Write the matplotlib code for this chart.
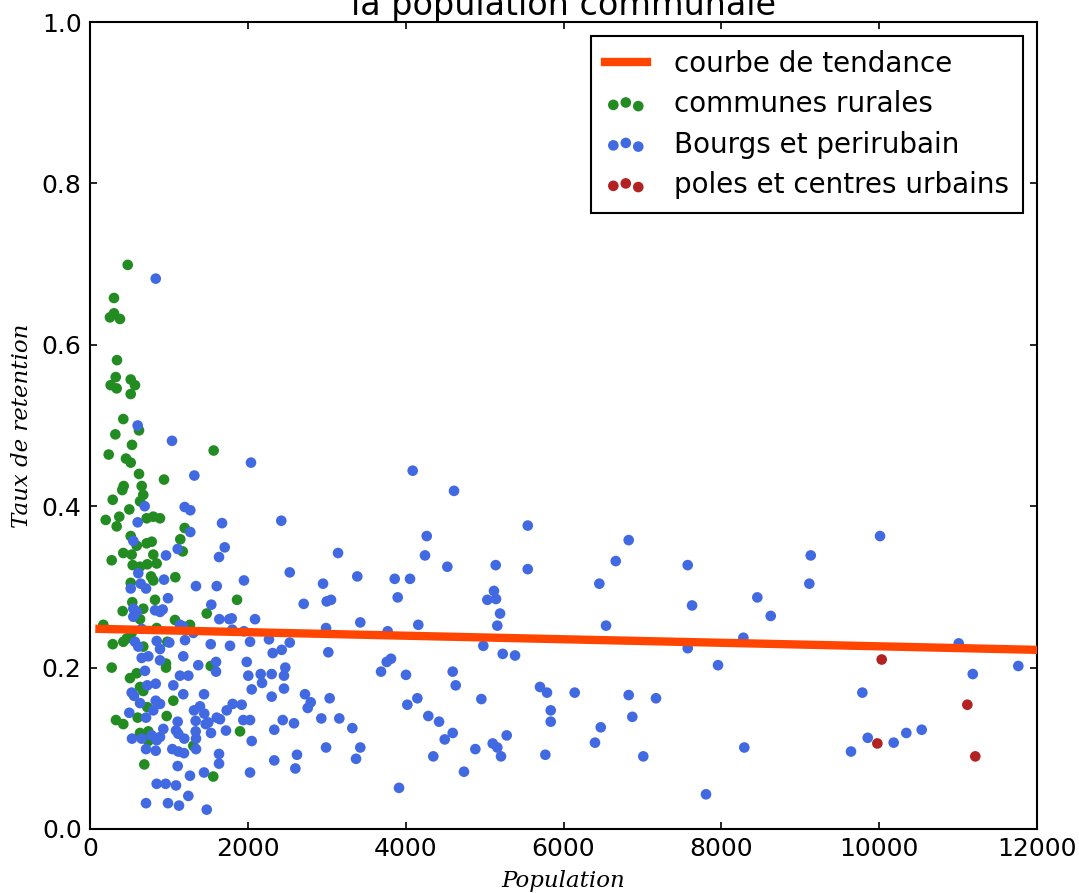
import numpy as np
import matplotlib
matplotlib.use("Agg")
import matplotlib.pyplot as plt

# communes rurales
rurales_pop = [478, 304, 253, 304, 380, 342, 326, 262, 338, 516, 570, 516, 422,
               621, 321, 532, 1567, 237, 456, 516, 621, 938, 655, 427, 409, 675,
               288, 634, 498, 371, 199, 718, 802, 887, 338, 1200, 516, 1144, 592,
               718, 782, 1175, 275, 422, 528, 802, 845, 541, 634, 726, 773, 802,
               1081, 516, 824, 536, 1863, 414, 634, 675, 1479, 1077, 169, 1267,
               845, 465, 422, 288, 528, 675, 980, 963, 963, 1530, 275, 507, 592,
               634, 675, 1056, 726, 329, 422, 604, 972, 1901, 634, 739, 739, 1309,
               688, 1562]
rurales_taux = [0.699, 0.658, 0.634, 0.639, 0.632, 0.581, 0.560, 0.550, 0.546, 0.557,
                0.550, 0.539, 0.508, 0.494, 0.489, 0.476, 0.469, 0.464, 0.459, 0.454,
                0.440, 0.433, 0.425, 0.425, 0.420, 0.414, 0.408, 0.406, 0.396, 0.387,
                0.383, 0.385, 0.387, 0.385, 0.375, 0.373, 0.363, 0.359, 0.351, 0.354,
                0.356, 0.344, 0.333, 0.342, 0.340, 0.340, 0.329, 0.327, 0.325, 0.328,
                0.313, 0.308, 0.312, 0.305, 0.284, 0.281, 0.284, 0.270, 0.260, 0.273,
                0.267, 0.259, 0.253, 0.253, 0.249, 0.236, 0.232, 0.229, 0.243, 0.226,
                0.232, 0.205, 0.200, 0.202, 0.200, 0.187, 0.193, 0.176, 0.171, 0.159,
                0.151, 0.135, 0.130, 0.138, 0.140, 0.121, 0.119, 0.121, 0.109, 0.103,
                0.080, 0.065]

# bourgs et periurbain
bourgs_pop = [833, 604, 1039, 2040, 1322, 693, 1200, 1271, 604, 1673, 1271, 549, 1111,
              1707, 963, 1635, 612, 938, 516, 642, 710, 1343, 1606, 1951, 988, 1537,
              549, 592, 549, 824, 887, 921, 1639, 1765, 1796, 1140, 1182, 655, 1951,
              1803, 570, 612, 845, 887, 1005, 1204, 1309, 1530, 1774, 655, 739, 887,
              1182, 1372, 1597, 1986, 697, 1140, 1246, 1597, 2006, 726, 833, 1056,
              528, 558, 1182, 1445, 634, 833, 887, 802, 1318, 1394, 1448, 1732, 1808,
              1922, 498, 710, 1111, 1339, 1466, 1499, 1606, 1647, 1943, 929, 1090,
              1119, 1195, 1339, 1343, 1533, 1723, 532, 655, 782, 845, 887, 710, 833,
              1343, 1043, 1119, 1191, 1635, 1635, 1111, 1267, 1445, 845, 959, 1090,
              1246, 710, 988, 1128, 1479,
              2424, 4089, 4613, 3143, 2531, 2953, 3387, 4267, 4245, 4528, 3861, 4055,
              3899, 2708, 2999, 3054, 2091, 2991, 3425, 3772, 4160, 2028, 2268, 2429,
              2531, 2315, 3020, 2163, 2302, 2475, 2458, 2180, 2049, 2458, 2302, 2724,
              2797, 2759, 3037, 3688, 3760, 3814, 4004, 4021, 4148, 4596, 4634, 2028,
              2442, 2585, 2931, 3159, 3324, 2335, 4287, 4423, 4596, 4495, 2049, 2991,
              3425, 3371, 2623, 2335, 2602, 4350, 4883, 4739, 3916, 2028,
              5547, 6826, 5141, 5547, 6662, 7574, 6454, 5119, 5035, 5145, 5196, 5161,
              6539, 7629, 8456, 4984, 5230, 5386, 7574, 8279, 7958, 5702, 5791, 6142,
              6826, 7172, 4959, 5838, 5838, 6872, 6472, 5280, 5103, 5161, 5208, 5770,
              6399, 7011, 8291, 7806,
              10011, 9133, 9115, 8626, 11008, 11763, 11186, 9787, 9643, 9855, 10184,
              10344, 10539]
bourgs_taux = [0.682, 0.500, 0.481, 0.454, 0.438, 0.400, 0.399, 0.395, 0.380, 0.379,
               0.368, 0.357, 0.347, 0.349, 0.339, 0.337, 0.317, 0.309, 0.298, 0.304,
               0.298, 0.301, 0.301, 0.308, 0.286, 0.278, 0.273, 0.269, 0.263, 0.271,
               0.269, 0.272, 0.260, 0.260, 0.261, 0.253, 0.251, 0.248, 0.245, 0.247,
               0.232, 0.226, 0.233, 0.223, 0.231, 0.234, 0.243, 0.229, 0.227, 0.212,
               0.214, 0.209, 0.214, 0.203, 0.207, 0.207, 0.196, 0.190, 0.190, 0.195,
               0.190, 0.178, 0.180, 0.178, 0.169, 0.165, 0.167, 0.167, 0.156, 0.159,
               0.155, 0.147, 0.147, 0.152, 0.143, 0.147, 0.155, 0.154, 0.144, 0.138,
               0.133, 0.134, 0.130, 0.132, 0.138, 0.136, 0.135, 0.124, 0.122, 0.118,
               0.112, 0.121, 0.112, 0.119, 0.122, 0.112, 0.112, 0.116, 0.110, 0.114,
               0.099, 0.097, 0.099, 0.099, 0.096, 0.094, 0.093, 0.081, 0.078, 0.066,
               0.070, 0.056, 0.056, 0.054, 0.041, 0.032, 0.032, 0.029, 0.024,
               0.382, 0.444, 0.419, 0.342, 0.318, 0.304, 0.313, 0.363, 0.339, 0.325,
               0.310, 0.310, 0.287, 0.279, 0.282, 0.284, 0.260, 0.249, 0.256, 0.245,
               0.253, 0.232, 0.235, 0.222, 0.231, 0.218, 0.219, 0.192, 0.192, 0.200,
               0.190, 0.181, 0.173, 0.174, 0.164, 0.167, 0.157, 0.150, 0.162, 0.195,
               0.207, 0.211, 0.191, 0.154, 0.162, 0.195, 0.178, 0.135, 0.135, 0.131,
               0.137, 0.137, 0.125, 0.123, 0.140, 0.133, 0.119, 0.111, 0.109, 0.101,
               0.101, 0.087, 0.092, 0.085, 0.075, 0.090, 0.099, 0.071, 0.051, 0.070,
               0.376, 0.358, 0.327, 0.322, 0.332, 0.327, 0.304, 0.295, 0.284, 0.285,
               0.267, 0.252, 0.252, 0.277, 0.287, 0.227, 0.217, 0.215, 0.224, 0.237,
               0.203, 0.176, 0.169, 0.169, 0.166, 0.162, 0.161, 0.147, 0.133, 0.139,
               0.126, 0.116, 0.106, 0.101, 0.090, 0.092, 0.107, 0.090, 0.101, 0.043,
               0.363, 0.339, 0.304, 0.264, 0.230, 0.202, 0.192, 0.169, 0.096, 0.113,
               0.107, 0.119, 0.123]

# poles et centres urbains
poles_pop = [10032, 9977, 11117, 11218]
poles_taux = [0.210, 0.106, 0.154, 0.090]

# courbe de tendance (extremites)
tendance_pop = [120, 12000]
tendance_taux = [0.248, 0.222]

plt.rcParams['font.family'] = ['DejaVu Sans']
plt.rcParams['font.size'] = 12

fig = plt.figure(figsize=(1079 / 150, 893 / 150), dpi=150)
ax = fig.add_axes([90 / 1079, 64 / 893, 947 / 1079, 807 / 893])

ax.plot(tendance_pop, tendance_taux, color='orangered', lw=4, zorder=3,
        label='courbe de tendance')
ax.scatter(rurales_pop, rurales_taux, s=26, color='forestgreen', edgecolors='none',
           label='communes rurales')
ax.scatter(bourgs_pop, bourgs_taux, s=26, color='royalblue', edgecolors='none',
           label='Bourgs et perirubain')
ax.scatter(poles_pop, poles_taux, s=26, color='firebrick', edgecolors='none',
           label='poles et centres urbains')

ax.set_xlim(0, 12000)
ax.set_ylim(0, 1.0)
ax.set_xticks(np.arange(0, 12001, 2000))
ax.set_yticks(np.arange(0, 1.01, 0.2))
ax.yaxis.set_major_formatter(matplotlib.ticker.FormatStrFormatter('%.1f'))
ax.tick_params(direction='in', top=True, right=True, length=3.5, width=0.8, pad=4)
for s in ax.spines.values():
    s.set_linewidth(1.0)

ax.set_xlabel('Population', family='DejaVu Serif', style='italic', fontsize=11)
ax.set_ylabel('Taux de retention', family='DejaVu Serif', style='italic', fontsize=11)
# titre coupe en haut de l'image, comme sur l'original
ax.set_title('la population communale', fontsize=16, pad=3.5)

leg = ax.legend(loc='upper right', scatterpoints=3, fontsize=13.3,
                scatteryoffsets=[0.375, 0.5, 0.3125], fancybox=False,
                framealpha=1, edgecolor='black', borderaxespad=0.5,
                borderpad=0.5, handlelength=1.5, handletextpad=1.0,
                labelspacing=0.45)
leg.get_frame().set_linewidth(1.0)

fig.savefig('out.png', dpi=150)
